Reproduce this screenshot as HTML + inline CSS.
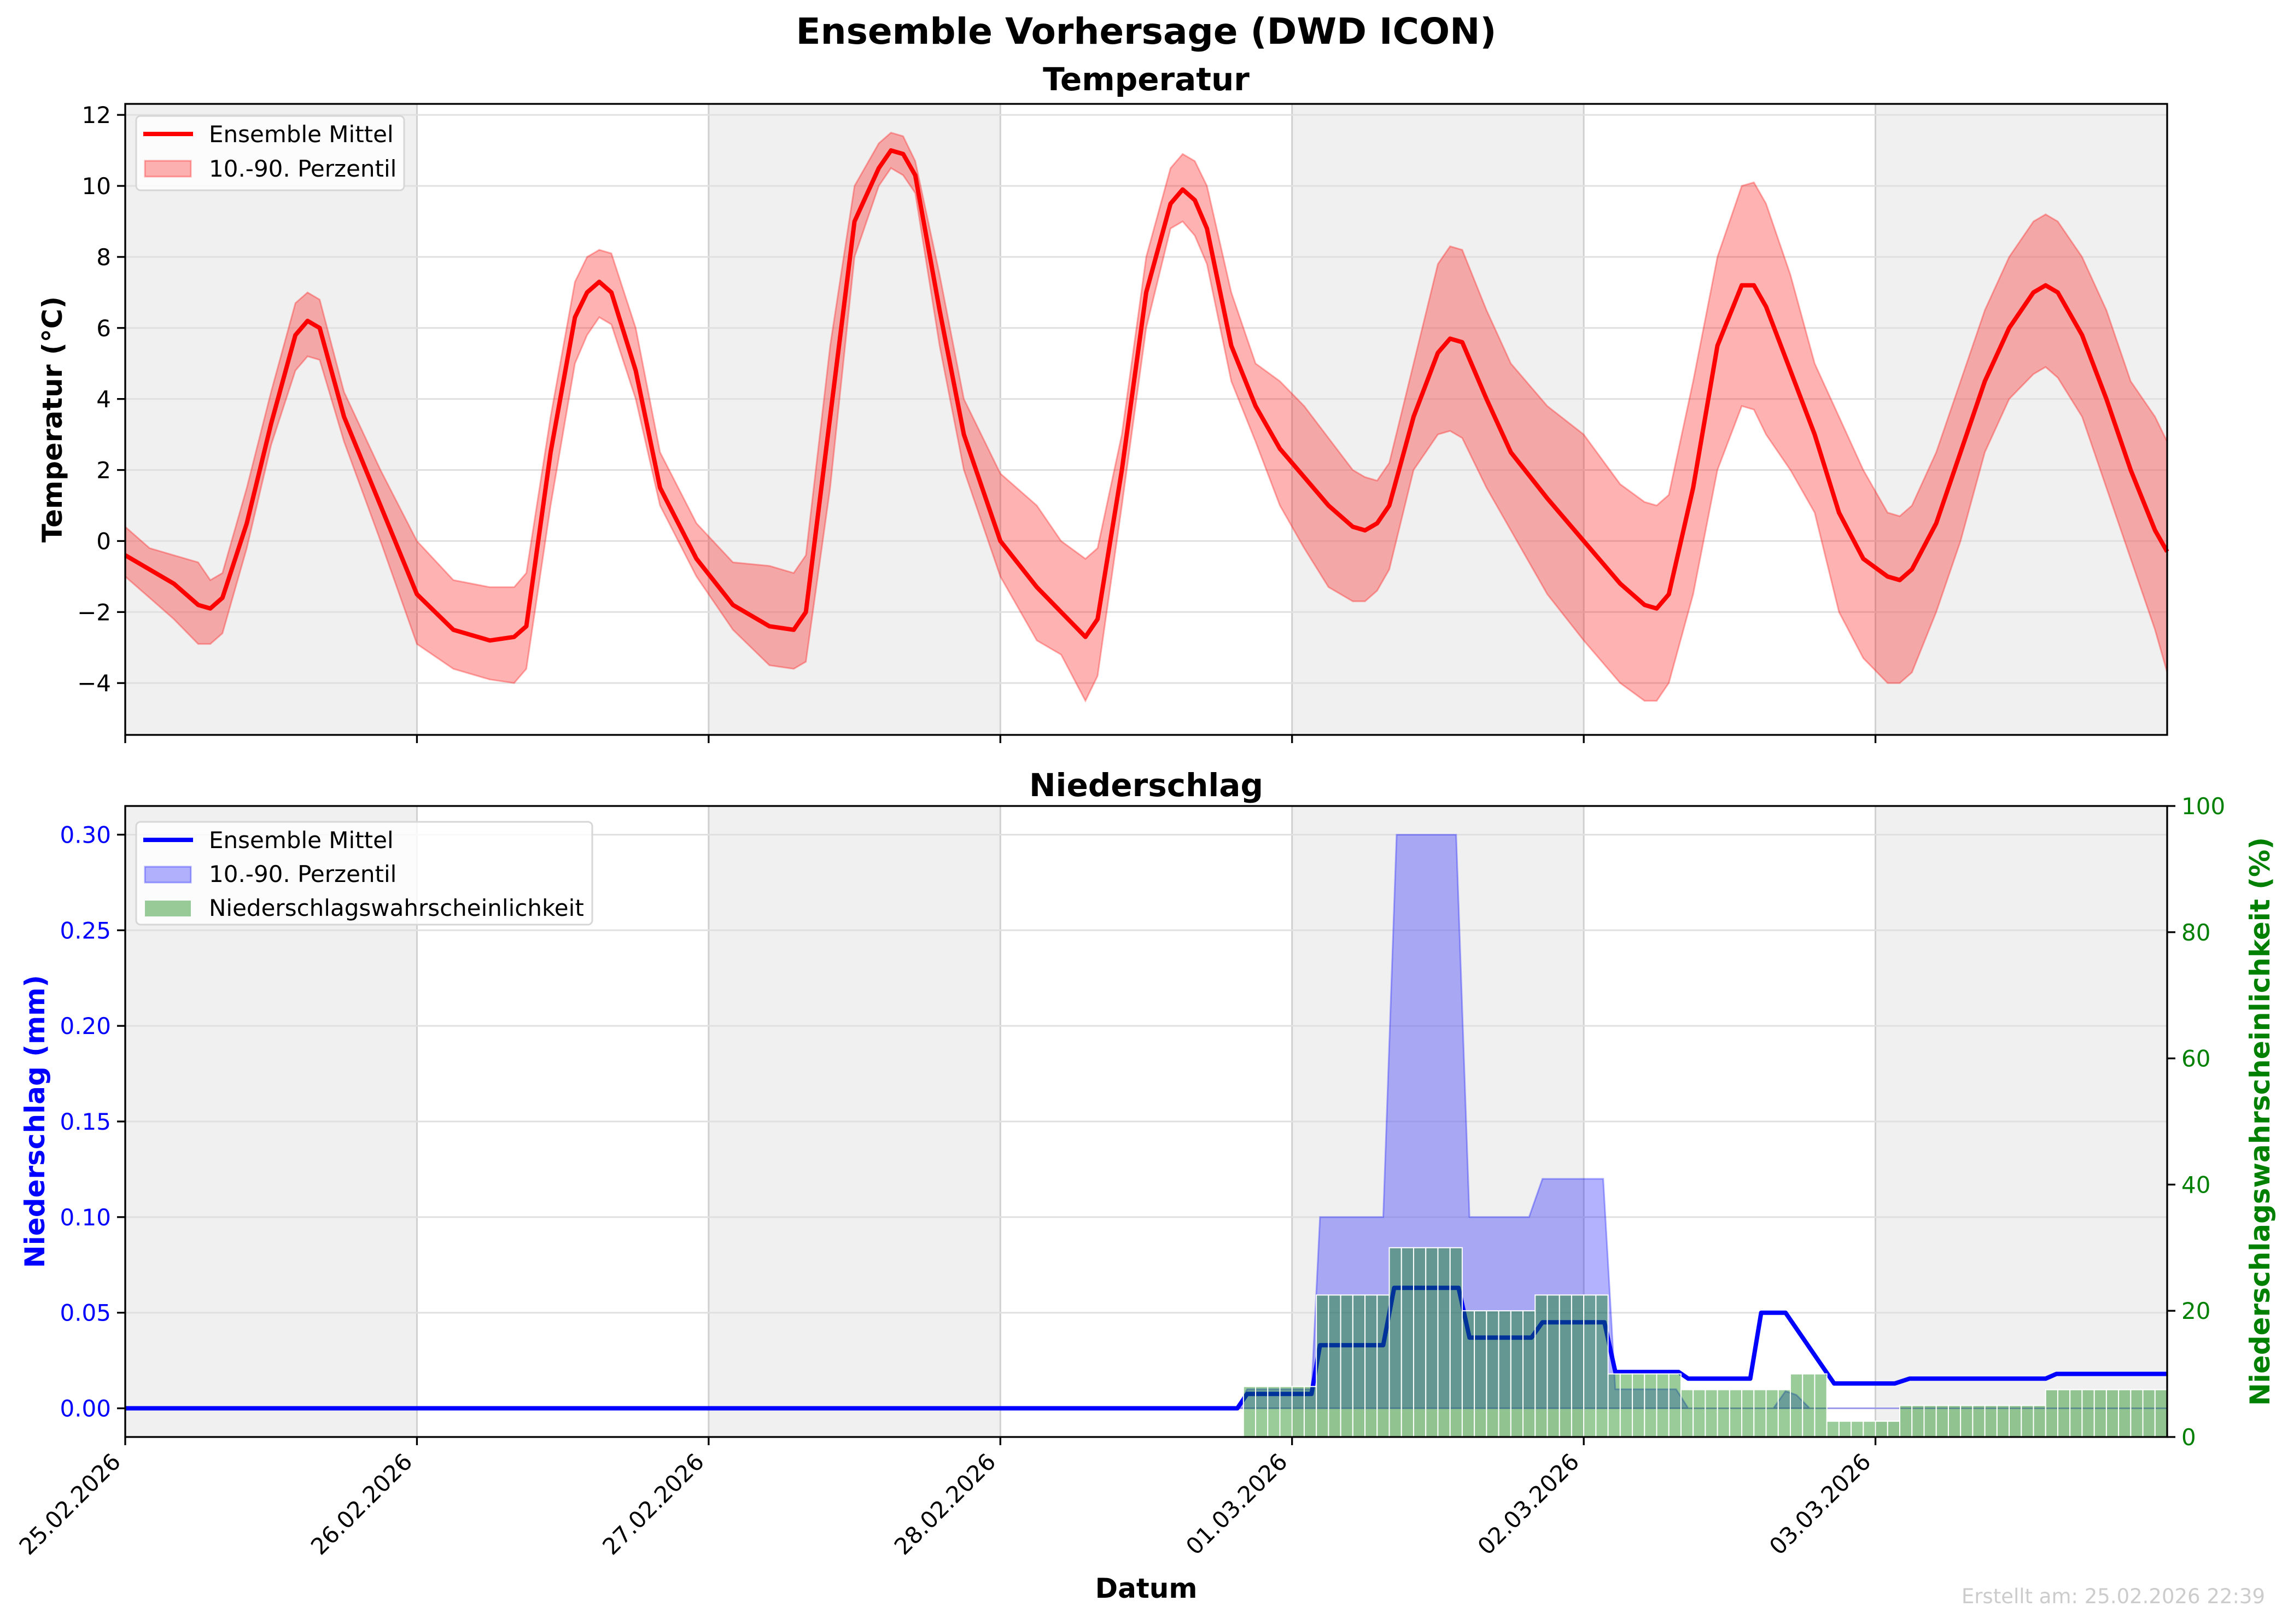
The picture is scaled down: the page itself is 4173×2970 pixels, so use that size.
<!DOCTYPE html>
<html><head><meta charset="utf-8"><style>
html,body{margin:0;padding:0;background:#fff;}
svg{display:block;font-family:"DejaVu Sans","Liberation Sans",sans-serif;}
</style></head><body>
<svg id="chart" width="4173" height="2970" viewBox="0 0 4173 2970" xmlns="http://www.w3.org/2000/svg">
<rect width="4173" height="2970" fill="#fff"/>
<text x="2096" y="80" text-anchor="middle" font-size="66" font-weight="bold">Ensemble Vorhersage (DWD ICON)</text>
<text x="2096" y="165" text-anchor="middle" font-size="58" font-weight="bold">Temperatur</text>
<text x="2096" y="1456" text-anchor="middle" font-size="58" font-weight="bold">Niederschlag</text>
<g id="topPanel"></g>
<g id="botPanel"></g>
<text x="2096" y="2922" text-anchor="middle" font-size="50" font-weight="bold">Datum</text>
<text x="4142" y="2932" text-anchor="end" font-size="37" fill="#cccccc">Erstellt am: 25.02.2026 22:39</text>
</svg>
<script>
// ---- data ----
const dayLabels = ["25.02.2026","26.02.2026","27.02.2026","28.02.2026","01.03.2026","02.03.2026","03.03.2026"];
const tempHours = [0,2,4,6,7,8,10,12,14,15,16,18,21,24,27,30,32,33,35,37,38,39,40,42,44,47,50,53,55,56,58,60,62,63,64,65,67,69,72,75,77,79,80,82,84,86,87,88,89,91,93,95,97,99,101,102,103,104,106,108,109,110,112,114,117,120,123,125,126,127,129,131,133,134,135,137,139,141,143,145,146,147,149,151,153,155,157,158,159,161,163,165,167,168];
const tempMean = [-0.4,-0.8,-1.2,-1.8,-1.9,-1.6,0.5,3.3,5.8,6.2,6.0,3.5,1.0,-1.5,-2.5,-2.8,-2.7,-2.4,2.5,6.3,7.0,7.3,7.0,4.8,1.5,-0.5,-1.8,-2.4,-2.5,-2.0,3.5,9.0,10.5,11.0,10.9,10.3,6.5,3.0,0.0,-1.3,-2.0,-2.7,-2.2,2.0,7.0,9.5,9.9,9.6,8.8,5.5,3.8,2.6,1.8,1.0,0.4,0.3,0.5,1.0,3.5,5.3,5.7,5.6,4.0,2.5,1.2,0.0,-1.2,-1.8,-1.9,-1.5,1.5,5.5,7.2,7.2,6.6,4.8,3.0,0.8,-0.5,-1.0,-1.1,-0.8,0.5,2.5,4.5,6.0,7.0,7.2,7.0,5.8,4.0,2.0,0.3,-0.3];
const tempP10 = [-1.0,-1.6,-2.2,-2.9,-2.9,-2.6,-0.2,2.7,4.8,5.2,5.1,2.8,0.0,-2.9,-3.6,-3.9,-4.0,-3.6,1.0,5.0,5.8,6.3,6.1,4.0,1.0,-1.0,-2.5,-3.5,-3.6,-3.4,1.5,8.0,10.0,10.5,10.3,9.8,5.5,2.0,-1.0,-2.8,-3.2,-4.5,-3.8,1.0,6.0,8.8,9.0,8.6,7.8,4.5,2.8,1.0,-0.2,-1.3,-1.7,-1.7,-1.4,-0.8,2.0,3.0,3.1,2.9,1.5,0.3,-1.5,-2.8,-4.0,-4.5,-4.5,-4.0,-1.5,2.0,3.8,3.7,3.0,2.0,0.8,-2.0,-3.3,-4.0,-4.0,-3.7,-2.0,0.0,2.5,4.0,4.7,4.9,4.6,3.5,1.5,-0.5,-2.5,-3.7];
const tempP90 = [0.4,-0.2,-0.4,-0.6,-1.1,-0.9,1.5,4.2,6.7,7.0,6.8,4.2,2.0,0.0,-1.1,-1.3,-1.3,-0.9,3.5,7.3,8.0,8.2,8.1,6.0,2.5,0.5,-0.6,-0.7,-0.9,-0.4,5.5,10.0,11.2,11.5,11.4,10.7,7.5,4.0,1.9,1.0,0.0,-0.5,-0.2,3.0,8.0,10.5,10.9,10.7,10.0,7.0,5.0,4.5,3.8,2.9,2.0,1.8,1.7,2.2,5.0,7.8,8.3,8.2,6.5,5.0,3.8,3.0,1.6,1.1,1.0,1.3,4.5,8.0,10.0,10.1,9.5,7.5,5.0,3.5,2.0,0.8,0.7,1.0,2.5,4.5,6.5,8.0,9.0,9.2,9.0,8.0,6.5,4.5,3.5,2.8];
const tempTicks = [-4,-2,0,2,4,6,8,10,12];

const precHours = [0,91.5,92.3,97.6,98.3,103.5,104.4,109.7,110.6,115.7,116.6,121.7,122.6,127.8,128.6,133.7,134.6,136.6,140.6,145.6,146.8,158,158.9,168];
const precMean = [0,0,0.0075,0.0075,0.033,0.033,0.063,0.063,0.037,0.037,0.045,0.045,0.019,0.019,0.0155,0.0155,0.05,0.05,0.013,0.013,0.0155,0.0155,0.018,0.018];
const bandHours = [0,91.5,92.3,97.6,98.3,103.5,104.6,109.5,110.6,115.5,116.6,121.6,122.6,127.6,128.6,135.6,136.6,137.5,138.6,168];
const bandP90 = [0,0,0.01,0.01,0.1,0.1,0.3,0.3,0.1,0.1,0.12,0.12,0.01,0.01,0,0,0.009,0.007,0,0];
const probStart = [92,98,104,110,116,122,128,137,140,146,158];
const probValue = [8,22.5,30,20,22.5,10,7.5,10,2.5,5,7.5];
const probEnd = 168;
const precTicks = [0,0.05,0.10,0.15,0.20,0.25,0.30];
const precTickLabels = ["0.00","0.05","0.10","0.15","0.20","0.25","0.30"];
const probTicks = [0,20,40,60,80,100];

// ---- layout ----
const L=229, R=3963, T1=190, B1=1344, T2=1474, B2=2628;
const NS="http://www.w3.org/2000/svg";
const xs = h => L + (R-L)*h/168;
const yT = v => T1 + (12.31 - v)/(12.31+5.46)*(B1-T1);
const yP = v => T2 + (0.315 - v)/0.33*(B2-T2);
const yQ = v => T2 + (100 - v)/100*(B2-T2);
function el(tag, attrs, parent, txt){const e=document.createElementNS(NS,tag);for(const k in attrs)e.setAttribute(k,attrs[k]);if(txt!==undefined)e.textContent=txt;parent.appendChild(e);return e;}

function panel(g, T, B){
  for(let d=0; d<7; d+=2){
    const r=el('rect',{x:xs(d*24),y:T,width:xs(24)-xs(0),height:B-T,fill:'#f0f0f0'},g);
    
    
  }
  for(let d=1; d<7; d++){
    const l=el('line',{x1:xs(d*24),x2:xs(d*24),y1:T,y2:B,stroke:'#d0d0d0','stroke-width':3},g);
    
    
  }
}
function ticksX(g,B,labels){
  for(let d=0; d<7; d++){
    const x=xs(d*24);
    const t=el('line',{x1:x,x2:x,y1:B,y2:B+15,stroke:'#000','stroke-width':3.3},g);
    
    
    if(labels){
      const tx=el('text',{x:x-6,y:B+48,'text-anchor':'end','font-size':42,transform:`rotate(-45 ${x-6} ${B+48})`},g,dayLabels[d]);
      
      
    }
  }
}
function poly(xsArr, ysArr){return xsArr.map((x,i)=>`${x.toFixed(1)},${ysArr[i].toFixed(1)}`).join(' ');}

// ---- top panel ----
const topG=document.getElementById('topPanel');
panel(topG,T1,B1);
tempTicks.forEach(v=>{
  const y=yT(v);
  const gl=el('line',{x1:L,x2:R,y1:y,y2:y,stroke:'#e0e0e0','stroke-width':3},topG);
  
  
  const tk=el('line',{x1:L-15,x2:L,y1:y,y2:y,stroke:'#000','stroke-width':3.3},topG);
  
  
  const lb=el('text',{x:L-26,y:y+15,'text-anchor':'end','font-size':42},topG,v<0?'\u2212'+Math.abs(v):String(v));
  
  
});
{
  const px=tempHours.map(xs);
  const pts=poly(px,tempP90.map(yT))+' '+poly(px.slice().reverse(),tempP10.map(yT).reverse());
  const b=el('polygon',{points:pts,fill:'red','fill-opacity':0.3,stroke:'red','stroke-opacity':0.3,'stroke-width':3},topG);
  
  
  const m=el('polyline',{points:poly(px,tempMean.map(yT)),fill:'none',stroke:'red','stroke-width':8,'stroke-linejoin':'round'},topG);
  
  
}
ticksX(topG,B1,false);
{
  const f=el('rect',{x:L,y:T1,width:R-L,height:B1-T1,fill:'none',stroke:'#000','stroke-width':3.3},topG);
  
  
  const yl=el('text',{x:96,y:(T1+B1)/2,'text-anchor':'middle','font-size':50,'font-weight':'bold',transform:`rotate(-90 96 ${(T1+B1)/2}) translate(0 17)`},topG,'Temperatur (°C)');
  
  
  const lg=el('g',{},topG);
  
  
  el('rect',{x:249,y:212,width:490,height:136,rx:8,fill:'#fff','fill-opacity':0.8,stroke:'#d6d6d6','stroke-width':3},lg);
  el('line',{x1:262,x2:353,y1:245,y2:245,stroke:'red','stroke-width':8},lg);
  el('text',{x:382,y:260,'font-size':42},lg,'Ensemble Mittel');
  el('rect',{x:265,y:294,width:84,height:29,fill:'red','fill-opacity':0.3,stroke:'red','stroke-opacity':0.3,'stroke-width':3},lg);
  el('text',{x:382,y:323,'font-size':42},lg,'10.-90. Perzentil');
}

// ---- bottom panel ----
const botG=document.getElementById('botPanel');
panel(botG,T2,B2);
precTicks.forEach((v,i)=>{
  const y=yP(v);
  const gl=el('line',{x1:L,x2:R,y1:y,y2:y,stroke:'#e0e0e0','stroke-width':3},botG);
  
  
  const tk=el('line',{x1:L-15,x2:L,y1:y,y2:y,stroke:'#000','stroke-width':3.3},botG);
  
  
  const lb=el('text',{x:L-26,y:y+15,'text-anchor':'end','font-size':42,fill:'blue'},botG,precTickLabels[i]);
  
  
});
{
  const m=el('polyline',{points:poly(precHours.map(xs),precMean.map(yP)),fill:'none',stroke:'blue','stroke-width':8,'stroke-linejoin':'round'},botG);
  
  
  const px=bandHours.map(xs);
  const pts=poly(px,bandP90.map(yP))+' '+poly(px.slice().reverse(),bandHours.map(()=>yP(0)));
  const b=el('polygon',{points:pts,fill:'blue','fill-opacity':0.3,stroke:'blue','stroke-opacity':0.3,'stroke-width':3},botG);
  
  
  probStart.forEach((s,i)=>{
    const e=i+1<probStart.length?probStart[i+1]:probEnd;
    for(let h=s; h<e; h++){
      const r=el('rect',{x:xs(h),y:yQ(probValue[i]),width:xs(h+1)-xs(h),height:yQ(0)-yQ(probValue[i]),fill:'green','fill-opacity':0.4,stroke:'#fff','stroke-width':2},botG);
      
      
    }
  });
}
probTicks.forEach(v=>{
  const y=yQ(v);
  const tk=el('line',{x1:R,x2:R+15,y1:y,y2:y,stroke:'#000','stroke-width':3.3},botG);
  
  
  const lb=el('text',{x:R+26,y:y+15,'font-size':42,fill:'green'},botG,String(v));
  
  
});
ticksX(botG,B2,true);
{
  const f=el('rect',{x:L,y:T2,width:R-L,height:B2-T2,fill:'none',stroke:'#000','stroke-width':3.3},botG);
  
  
  const cy=(T2+B2)/2;
  const yl=el('text',{x:64,y:cy,'text-anchor':'middle','font-size':50,'font-weight':'bold',fill:'blue',transform:`rotate(-90 64 ${cy}) translate(0 17)`},botG,'Niederschlag (mm)');
  
  
  const yr=el('text',{x:4133,y:cy,'text-anchor':'middle','font-size':50,'font-weight':'bold',fill:'green',transform:`rotate(-90 4133 ${cy}) translate(0 17)`},botG,'Niederschlagswahrscheinlichkeit (%)');
  
  
  const lg=el('g',{},botG);
  
  
  el('rect',{x:249,y:1503,width:834,height:188,rx:8,fill:'#fff','fill-opacity':0.8,stroke:'#d6d6d6','stroke-width':3},lg);
  el('line',{x1:262,x2:353,y1:1536,y2:1536,stroke:'blue','stroke-width':8},lg);
  el('text',{x:382,y:1551,'font-size':42},lg,'Ensemble Mittel');
  el('rect',{x:265,y:1585,width:84,height:29,fill:'blue','fill-opacity':0.3,stroke:'blue','stroke-opacity':0.3,'stroke-width':3},lg);
  el('text',{x:382,y:1613,'font-size':42},lg,'10.-90. Perzentil');
  el('rect',{x:265,y:1647,width:84,height:29,fill:'green','fill-opacity':0.4},lg);
  el('text',{x:382,y:1675,'font-size':42},lg,'Niederschlagswahrscheinlichkeit');
}
</script>
</body></html>
